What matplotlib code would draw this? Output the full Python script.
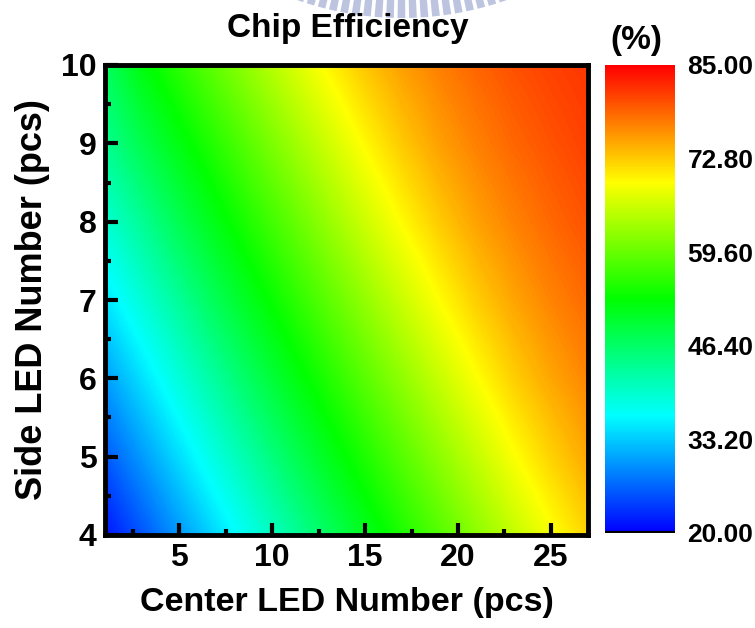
import numpy as np
import matplotlib
matplotlib.use("Agg")
from matplotlib import pyplot as plt
from matplotlib.colors import LinearSegmentedColormap
from matplotlib.patches import Polygon

# chip efficiency (%) vs. number of center / side LEDs
center_led = [1, 3, 5, 7, 9, 11, 13, 15, 17, 19, 21, 23, 25, 27]
side_led = [4, 5, 6, 7, 8, 9, 10]
eff_side4 = [21.3, 25.4, 29.7, 34.0, 38.2, 42.3, 46.5, 50.5, 54.2, 57.7, 61.3, 64.8, 68.2, 71.4]
eff_side5 = [25.7, 29.9, 34.2, 38.5, 42.5, 46.7, 50.7, 54.3, 57.9, 61.4, 64.9, 68.4, 71.5, 74.2]
eff_side6 = [30.1, 34.4, 38.7, 42.7, 46.9, 50.9, 54.5, 58.1, 61.6, 65.1, 68.5, 71.7, 74.3, 76.4]
eff_side7 = [34.7, 38.9, 42.9, 47.2, 51.1, 54.7, 58.3, 61.8, 65.3, 68.7, 71.8, 74.4, 76.5, 78.2]
eff_side8 = [39.1, 43.1, 47.4, 51.3, 54.9, 58.4, 62.0, 65.5, 68.9, 72.0, 74.6, 76.6, 78.3, 79.7]
eff_side9 = [43.3, 47.6, 51.5, 55.0, 58.6, 62.1, 65.6, 69.0, 72.1, 74.7, 76.7, 78.4, 79.7, 80.8]
eff_side10 = [46.5, 51.7, 55.2, 58.8, 62.3, 65.8, 69.2, 72.3, 74.8, 76.8, 78.5, 79.8, 80.8, 81.5]
cbar_labels = ["20.00", "33.20", "46.40", "59.60", "72.80", "85.00"]

eff = np.array([eff_side4, eff_side5, eff_side6, eff_side7, eff_side8, eff_side9, eff_side10])

plt.rcParams["font.family"] = ["Liberation Sans", "DejaVu Sans"]
plt.rcParams["font.weight"] = "bold"

W, H = 755, 628
fig = plt.figure(figsize=(W / 100, H / 100), dpi=100)

cmap = LinearSegmentedColormap.from_list(
    "rainbow5", ["#0000ff", "#00ffff", "#00ff00", "#ffff00", "#ff0000"])

ax = fig.add_axes([105 / W, 1 - 535 / H, 483 / W, 470 / H])
dx = center_led[1] - center_led[0]
dy = side_led[1] - side_led[0]
im = ax.imshow(eff, origin="lower", aspect="auto", cmap=cmap, vmin=20, vmax=85,
               interpolation="bilinear",
               extent=(center_led[0] - dx / 2, center_led[-1] + dx / 2,
                       side_led[0] - dy / 2, side_led[-1] + dy / 2))
ax.set_xlim(1, 27)
ax.set_ylim(4, 10)

ax.set_xticks([5, 10, 15, 20, 25])
ax.set_xticks([2.5, 7.5, 12.5, 17.5, 22.5], minor=True)
ax.set_yticks(range(4, 11))
ax.set_yticks(np.arange(4.5, 10, 1.0), minor=True)
ax.tick_params(which="both", direction="in", top=False, right=False, width=3,
               labelsize=23, pad=6)
ax.tick_params(which="major", length=9)
ax.tick_params(which="minor", length=4)
for s in ax.spines.values():
    s.set_linewidth(3.5)

ax.set_xlabel("Center LED Number (pcs)", fontsize=24.5, fontweight="bold", labelpad=10)
ax.set_ylabel("Side LED Number (pcs)", fontsize=26, fontweight="bold", labelpad=8)

fig.text(348 / W, 1 - 28 / H, "Chip Efficiency", fontsize=24, fontweight="bold",
         ha="center", va="center")
fig.text(636 / W, 1 - 40 / H, "(%)", fontsize=24, fontweight="bold",
         ha="center", va="center")

# colour scale
cax = fig.add_axes([605 / W, 1 - 533 / H, 70 / W, 468 / H])
cb = fig.colorbar(im, cax=cax)
cb.outline.set_visible(False)
cb.set_ticks(np.linspace(20, 85, 6))
cb.set_ticklabels(cbar_labels)
cax.tick_params(length=0, labelsize=19, pad=9)
cax.axhline(20, color="black", lw=3)

# faint logo fragment at the top edge
cx, cy, r_out, r_in = 402, -297, 315, 296
for a in np.deg2rad(np.arange(-19, 20, 2.1)):
    half = np.deg2rad(0.7)
    pts = []
    for r, t in [(r_in, a - half), (r_out, a - half), (r_out, a + half), (r_in, a + half)]:
        px = cx + r * np.sin(t)
        py = cy + r * np.cos(t)
        pts.append((px / W, 1 - py / H))
    fig.patches.append(Polygon(pts, closed=True, transform=fig.transFigure,
                               facecolor="#bcc4e0", edgecolor="none", zorder=0))

fig.savefig("out.png", dpi=100)
